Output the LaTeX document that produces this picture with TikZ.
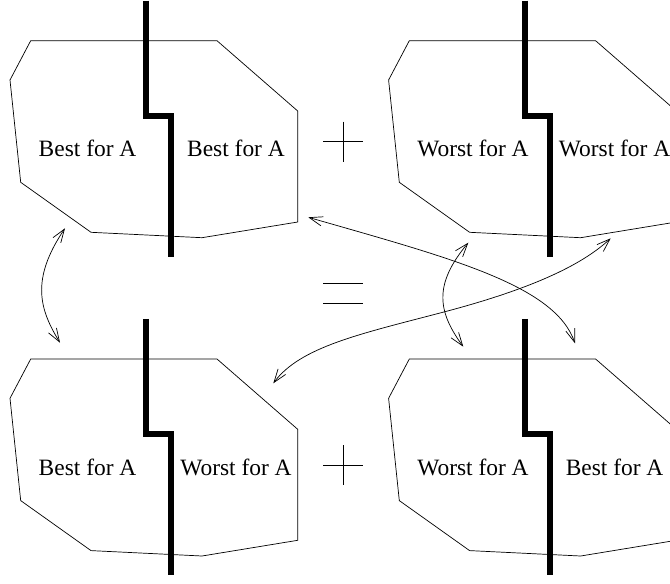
\documentclass[tikz,border=0pt]{standalone}
\usepackage{fontspec}
\setmainfont{Liberation Serif}
\usepackage{tikz}
\usetikzlibrary{arrows.meta, calc}
\tikzstyle{region} = [draw, line width=0.6pt, line join=miter]
\tikzstyle{cut} = [line width=5pt, line join=miter]
\tikzstyle{cell} = [font=\fontsize{20}{24}\selectfont, inner sep=0pt]
\tikzstyle{sign} = [line width=0.8pt]
\tikzstyle{exchange} = [line width=0.6pt, {Straight Barb[length=4mm,width=2.8mm]}-{Straight Barb[length=4mm,width=2.8mm]}]

% one split region: shift, name, left text, right text
\newcommand{\splitregion}[4]{%
  \begin{scope}[shift={#1}]
    \draw[region] (30.7,40.7) -- (217,40.7) -- (297.7,111) -- (297.7,222) -- (202,237.7)
      -- (91,232.3) -- (20.7,182.3) -- (10,80) -- cycle;
    \draw[cut] (146,0.5) -- (146,116) -- (171,116) -- (171,257);
    \node[cell, anchor=base west] (#2left) at (38.5,156.7) {#3};
    \node[cell, anchor=base] (#2right) at (236,156.7) {#4};
  \end{scope}}

\begin{document}
\begin{tikzpicture}[x=0.03cm, y=-0.03cm]
    \useasboundingbox (0,0) rectangle (670,583);

    % Regions
    \splitregion{(0,0)}{tl}{Best for A}{Best for A}
    \splitregion{(378.6,0)}{tr}{Worst for A}{Worst for A}
    \splitregion{(0,318.3)}{bl}{Best for A}{Worst for A}
    \splitregion{(378.6,318.3)}{br}{Worst for A}{Best for A}

    % Operators
    \draw[sign] (323.3,141.7) -- (363.3,141.7) (343.3,121.7) -- (343.3,161.7);
    \draw[sign] (323.3,283.3) -- (363.3,283.3) (323.3,303.3) -- (363.3,303.3);
    \draw[sign] (323.3,465) -- (363.3,465) (343.3,445) -- (343.3,485);

    % Arrow ends
    \coordinate (tlLow) at (65,228.3);
    \coordinate (tlSide) at (308.3,217.3);
    \coordinate (trLowL) at (468.3,242.7);
    \coordinate (trLowR) at (610.7,238.3);
    \coordinate (blTop) at (60,342.7);
    \coordinate (blSide) at (273.3,383.3);
    \coordinate (brTopL) at (463.3,346.7);
    \coordinate (brTopR) at (575,343.3);

    % Arrows
    \draw[exchange] (tlLow) .. controls (30,280) and (40,310) .. (blTop);
    \draw[exchange] (trLowL) .. controls (433,285) and (438,312) .. (brTopL);
    \draw[exchange] (tlSide) .. controls (450,258) and (555,285) .. (brTopR);
    \draw[exchange] (blSide) .. controls (300,347) and (360,334) .. (440,313)
        .. controls (540,287) and (585,262) .. (trLowR);
\end{tikzpicture}
\end{document}
